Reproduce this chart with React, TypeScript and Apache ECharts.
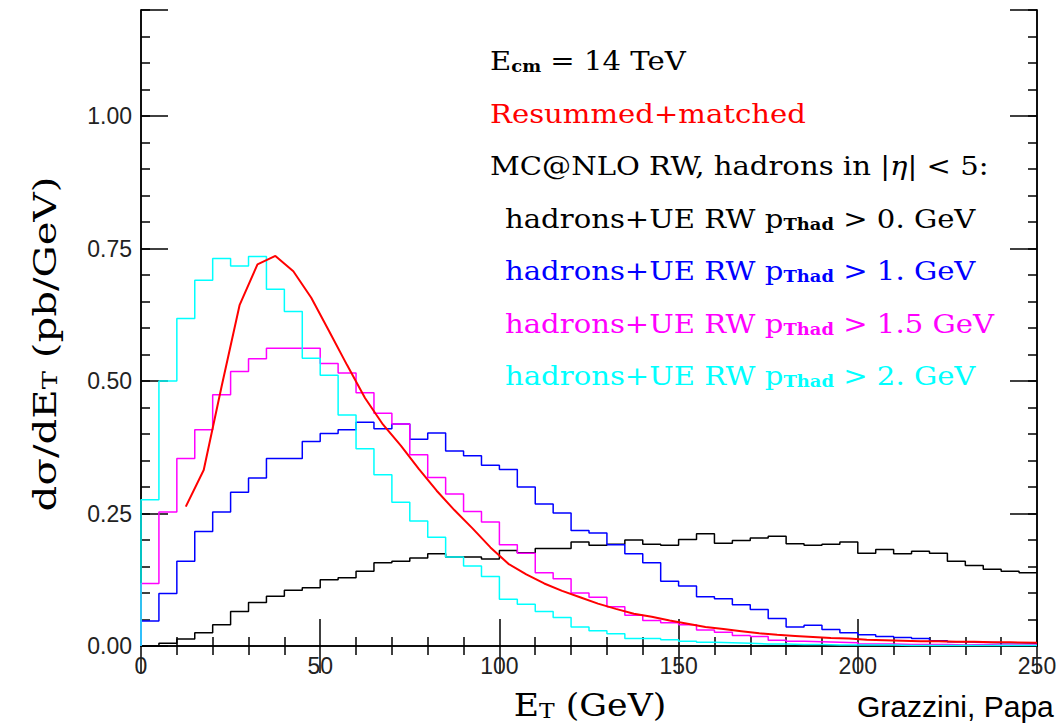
import React, { useEffect, useRef } from "react";
import * as echarts from "echarts";

const BIN = 5;
const X_TICKS = [0, 50, 100, 150, 200, 250];
const Y_TICKS = [0, 0.25, 0.5, 0.75, 1.0];

const pt0 = [0.000,0.005,0.013,0.025,0.040,0.065,0.082,0.094,0.105,0.110,
 0.125,0.129,0.141,0.157,0.160,0.166,0.174,0.168,0.168,0.164,
 0.180,0.176,0.184,0.184,0.196,0.190,0.192,0.200,0.192,0.190,
 0.201,0.212,0.194,0.199,0.204,0.207,0.193,0.190,0.192,0.196,
 0.175,0.182,0.174,0.179,0.175,0.160,0.152,0.145,0.141,0.138];

const pt1 = [0.047,0.099,0.160,0.216,0.253,0.290,0.317,0.354,0.354,0.386,
 0.401,0.408,0.422,0.410,0.419,0.390,0.402,0.368,0.359,0.341,
 0.333,0.300,0.268,0.251,0.218,0.213,0.191,0.174,0.157,0.122,
 0.113,0.093,0.089,0.078,0.069,0.052,0.036,0.039,0.031,0.025,
 0.021,0.018,0.016,0.014,0.010,0.008,0.007,0.006,0.006,0.005];

const pt15 = [0.118,0.253,0.354,0.408,0.474,0.518,0.542,0.562,0.562,0.562,
 0.533,0.515,0.478,0.439,0.419,0.361,0.318,0.287,0.254,0.234,
 0.191,0.175,0.138,0.127,0.100,0.092,0.074,0.058,0.048,0.044,
 0.040,0.030,0.026,0.020,0.018,0.011,0.009,0.008,0.007,0.006,
 0.004,0.004,0.003,0.003,0.003,0.002,0.003,0.002,0.002,0.002];

const pt2 = [0.276,0.500,0.618,0.690,0.731,0.717,0.735,0.673,0.631,0.543,
 0.511,0.436,0.372,0.323,0.271,0.236,0.205,0.168,0.151,0.131,
 0.088,0.079,0.065,0.054,0.036,0.029,0.023,0.014,0.014,0.012,
 0.009,0.007,0.006,0.005,0.004,0.004,0.003,0.003,0.002,0.002,
 0.002,0.002,0.001,0.001,0.001,0.001,0.001,0.001,0.001,0.001];

const resumX = [12.5,17.5,22.5,27.5,32.5,37.5,42.5,47.5,52.5,57.5,62.5,67.5,72.5,77.5,82.5,87.5,92.5,97.5,
 102.5,107.5,112.5,117.5,122.5,127.5,132.5,137.5,142.5,147.5,152.5,157.5,162.5,167.5,172.5,177.5,
 182.5,187.5,192.5,197.5,202.5,207.5,212.5,217.5,222.5,227.5,232.5,237.5,242.5,250];
const resumY = [0.263,0.332,0.49,0.643,0.720,0.736,0.707,0.657,0.594,0.530,0.468,0.418,0.378,0.334,0.293,0.256,0.222,0.186,
 0.155,0.135,0.118,0.104,0.092,0.080,0.070,0.061,0.055,0.048,0.042,0.036,0.032,0.028,0.024,0.021,
 0.019,0.017,0.015,0.014,0.012,0.011,0.010,0.009,0.009,0.008,0.008,0.007,0.007,0.006];

const histData = (vals: number[]) => {
  const d: number[][] = [[0, 0]];
  vals.forEach((v, i) => d.push([i * BIN, v]));
  d.push([vals.length * BIN, vals[vals.length - 1]]);
  return d;
};

const SERIF = "'DejaVu Serif', serif";
const LEG = 26;
const LEG_SX = 1.12;

export default function App() {
  const ref = useRef<HTMLDivElement>(null);
  useEffect(() => {
    const chart = echarts.init(ref.current!, null, { renderer: "svg" });
    const axisLine = { show: true, lineStyle: { color: "#000", width: 1.5 } };
    const majorTick = { show: true, inside: true, length: 27, lineStyle: { color: "#000", width: 1.5 } };
    const minorTickY = { show: true, inside: true, length: 9, lineStyle: { color: "#000", width: 1.5 } };
    const lbl = { fontFamily: "'Liberation Sans', sans-serif", fontSize: 23, color: "#222" };
    const yBase = { type: "value", min: 0, max: 1.2, splitLine: { show: false } };
    const xBase = { type: "value", min: 0, max: 250, interval: 50, splitLine: { show: false },
      minorTick: { show: true, splitNumber: 5, length: 9, lineStyle: { color: "#000", width: 1.5 } } };
    const main = (c: string) => ({ fontFamily: SERIF, fontSize: LEG, color: c });
    const sub = (c: string) => ({ fontFamily: SERIF, fontSize: 16, fontWeight: "bold", color: c, verticalAlign: "bottom" });
    const legLine = (y: number, x: number, text: string, c: string) => ({
      type: "text", x, y, scaleX: LEG_SX,
      style: { text, align: "left",
        rich: { a: main(c), s: sub(c), i: { ...main(c), fontStyle: "italic" } }, fill: c },
    });
    const titleRich = {
      a: { fontFamily: SERIF, fontSize: 31, color: "#555" },
      s: { fontFamily: SERIF, fontSize: 21, color: "#555", verticalAlign: "bottom" },
    };
    chart.setOption({
      animation: false,
      grid: { left: 141, right: 24, top: 10, bottom: 80 },
      xAxis: [
        { ...xBase, position: "bottom", axisLine, axisTick: majorTick,
          axisLabel: { ...lbl, margin: 8, customValues: X_TICKS } },
        { ...xBase, position: "top", axisLine, axisTick: majorTick, axisLabel: { show: false } },
      ],
      yAxis: [
        { ...yBase, interval: 0.25, position: "left", axisLine, axisTick: majorTick,
          axisLabel: { ...lbl, margin: 9, formatter: (v: number) => (Y_TICKS.some((t) => Math.abs(t - v) < 1e-6) ? v.toFixed(2) : "") } },
        { ...yBase, interval: 0.05, position: "left", axisLine, axisTick: minorTickY, axisLabel: { show: false } },
        { ...yBase, interval: 0.25, position: "right", axisLine, axisTick: majorTick, axisLabel: { show: false } },
        { ...yBase, interval: 0.05, position: "right", axisLine, axisTick: minorTickY, axisLabel: { show: false } },
      ],
      series: [
        { type: "line", step: "end", data: histData(pt0), symbol: "none", lineStyle: { color: "#000000", width: 1.5 } },
        { type: "line", step: "end", data: histData(pt1), symbol: "none", lineStyle: { color: "#0000ff", width: 1.5 } },
        { type: "line", step: "end", data: histData(pt15), symbol: "none", lineStyle: { color: "#ff00ff", width: 1.5 } },
        { type: "line", step: "end", data: histData(pt2), symbol: "none", lineStyle: { color: "#00ffff", width: 1.5 } },
        { type: "line", data: resumX.map((x, i) => [x, resumY[i]]), symbol: "none", lineStyle: { color: "#ff0000", width: 2 } },
      ],
      graphic: [
        legLine(48, 490, "{a|E}{s|cm}{a| = 14 TeV}", "#000"),
        legLine(101, 490, "{a|Resummed+matched}", "#ff0000"),
        legLine(153, 490, "{a|MC@NLO RW, hadrons in |}{i|η}{a|| < 5:}", "#000"),
        legLine(206, 505, "{a|hadrons+UE RW p}{s|Thad}{a| > 0. GeV}", "#000"),
        legLine(258, 505, "{a|hadrons+UE RW p}{s|Thad}{a| > 1. GeV}", "#0000ff"),
        legLine(311, 505, "{a|hadrons+UE RW p}{s|Thad}{a| > 1.5 GeV}", "#ff00ff"),
        legLine(363, 505, "{a|hadrons+UE RW p}{s|Thad}{a| > 2. GeV}", "#00ffff"),
        {
          type: "text", x: 45, y: 344, rotation: Math.PI / 2, scaleX: 1.3,
          style: { text: "{a|dσ/dE}{s|T}{a| (pb/GeV)}", align: "center", verticalAlign: "middle", rich: titleRich },
        },
        {
          type: "text", x: 590, y: 705, scaleX: 1.12,
          style: { text: "{a|E}{s|T}{a| (GeV)}", align: "center", verticalAlign: "middle", rich: titleRich },
        },
        {
          type: "text", x: 857, y: 706,
          style: { text: "Grazzini, Papa", fontFamily: "'Liberation Sans', Arial, sans-serif", fontSize: 30, fill: "#000", verticalAlign: "middle", align: "left" },
        },
      ],
    });
    return () => chart.dispose();
  }, []);
  return <div ref={ref} style={{ position: "fixed", left: 0, top: 0, width: 1061, height: 726, background: "#fff" }} />;
}
